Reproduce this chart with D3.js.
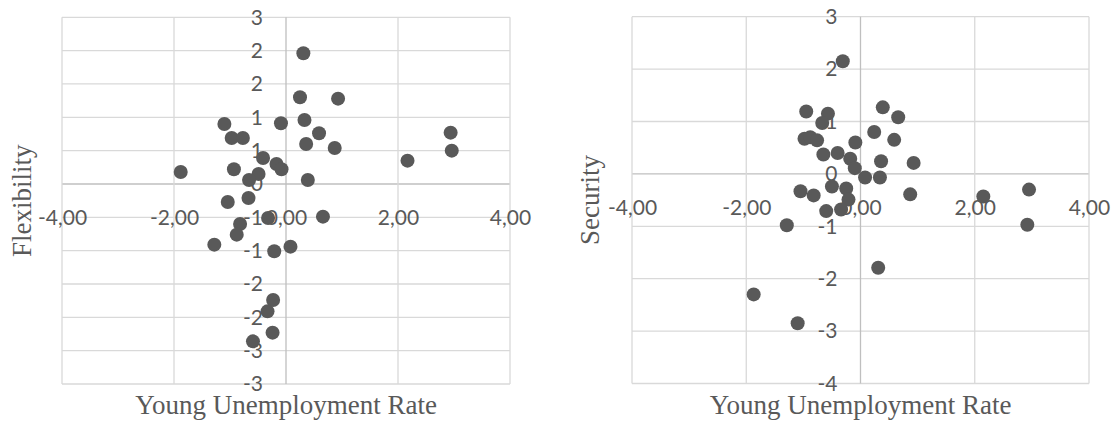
<!DOCTYPE html>
<html>
<head>
    <meta charset="utf-8">
    <script src="https://d3js.org/d3.v7.min.js"></script>
    <style>
        body { margin: 0; background: #fff; }
        .tick text { font-family: Lato, "Open Sans", sans-serif; fill: #595959; }
        .title { font-family: "Liberation Serif", "Times New Roman", serif; fill: #595959; }
    </style>
</head>
<body>
    <script>
        // x tick labels (same for both charts)
        const xTicks = [-4, -2, 0, 2, 4];
        const xTickLabels = ["-4,00", "-2,00", "0,00", "2,00", "4,00"];

        // left chart: y ticks every 0.5, Excel shows them rounded
        const flexTicks = [-3, -2.5, -2, -1.5, -1, -0.5, 0, 0.5, 1, 1.5, 2, 2.5];
        const flexTickLabels = ["-3", "-3", "-2", "-2", "-1", "-1", "0", "1", "1", "2", "2", "3"];

        // right chart: y ticks every 1
        const secTicks = [-4, -3, -2, -1, 0, 1, 2, 3];
        const secTickLabels = ["-4", "-3", "-2", "-1", "0", "1", "2", "3"];

        // Young Unemployment Rate vs Flexibility
        const flexX = [0.31, 0.25, 0.93, 0.33, -0.09, -1.10, 0.59, -0.97, -0.77, 0.36, 0.87, -0.41,
            -0.17, -0.08, -1.88, -0.93, -0.49, -0.66, 0.39, 2.94, 2.96, 2.17, -1.04, -0.67,
            -0.32, 0.66, -0.82, -0.88, -1.28, -0.21, 0.08, -0.23, -0.33, -0.24, -0.59];
        const flexY = [1.96, 1.30, 1.28, 0.96, 0.91, 0.90, 0.76, 0.69, 0.69, 0.60, 0.54, 0.39,
            0.30, 0.22, 0.18, 0.22, 0.15, 0.06, 0.06, 0.77, 0.50, 0.35, -0.27, -0.21,
            -0.51, -0.49, -0.60, -0.76, -0.91, -1.01, -0.94, -1.74, -1.91, -2.23, -2.36];

        // Young Unemployment Rate vs Security
        const secX = [-0.31, -0.95, -0.57, -0.67, 0.39, 0.66, -0.98, -0.88, -0.76, 0.24, 0.59, -0.09,
            -0.65, -0.40, -0.18, -0.10, 0.36, 0.93, 0.08, 0.34, -1.05, -0.82, -0.50, -0.25,
            -0.21, -0.60, -0.34, 0.87, 2.15, 2.95, 2.92, -1.29, 0.31, -1.87, -1.10];
        const secY = [2.15, 1.19, 1.15, 0.97, 1.27, 1.08, 0.67, 0.70, 0.64, 0.80, 0.65, 0.60,
            0.37, 0.40, 0.29, 0.11, 0.24, 0.21, -0.07, -0.07, -0.33, -0.41, -0.24, -0.28,
            -0.49, -0.71, -0.68, -0.39, -0.43, -0.30, -0.97, -0.98, -1.79, -2.30, -2.85];

        const svg = d3.select("body")
            .append("svg")
            .attr("width", 1115)
            .attr("height", 423);

        function drawChart(opt) {
            const xScale = d3.scaleLinear().domain([-4, 4]).range([opt.left, opt.right]);
            const yScale = d3.scaleLinear().domain(d3.extent(opt.yTicks)).range([opt.bottom, opt.top]);
            const g = svg.append("g");

            // gridlines
            g.selectAll(".hgrid")
                .data(opt.yTicks)
                .enter().append("line")
                .attr("x1", opt.left).attr("x2", opt.right)
                .attr("y1", d => yScale(d)).attr("y2", d => yScale(d))
                .attr("stroke", d => d === 0 ? "#bfbfbf" : "#d9d9d9")
                .attr("stroke-width", 1.3);
            g.selectAll(".vgrid")
                .data(xTicks)
                .enter().append("line")
                .attr("y1", opt.top).attr("y2", opt.bottom)
                .attr("x1", d => xScale(d)).attr("x2", d => xScale(d))
                .attr("stroke", d => d === 0 ? "#bfbfbf" : "#d9d9d9")
                .attr("stroke-width", 1.3);

            // x axis labels, under the zero line
            const xAxis = g.append("g")
                .attr("transform", `translate(0,${yScale(0)})`)
                .call(d3.axisBottom(xScale)
                    .tickValues(xTicks)
                    .tickFormat((d, i) => xTickLabels[i])
                    .tickSize(0)
                    .tickPadding(26));
            xAxis.select(".domain").remove();
            xAxis.selectAll("text").attr("font-size", 21);

            // y axis labels, left of the zero line
            const yAxis = g.append("g")
                .attr("transform", `translate(${xScale(0)},0)`)
                .call(d3.axisLeft(yScale)
                    .tickValues(opt.yTicks)
                    .tickFormat((d, i) => opt.yLabels[i])
                    .tickSize(0)
                    .tickPadding(23));
            yAxis.select(".domain").remove();
            yAxis.selectAll("text").attr("font-size", 21);

            // points
            g.selectAll("circle")
                .data(opt.xs)
                .enter().append("circle")
                .attr("cx", d => xScale(d))
                .attr("cy", (d, i) => yScale(opt.ys[i]))
                .attr("r", 7)
                .attr("fill", "#595959");

            // axis titles
            g.append("text")
                .attr("class", "title")
                .attr("x", (opt.left + opt.right) / 2)
                .attr("y", 414)
                .attr("text-anchor", "middle")
                .attr("font-size", 27)
                .text("Young Unemployment Rate");
            g.append("text")
                .attr("class", "title")
                .attr("transform", `translate(${opt.titleX},${(opt.top + opt.bottom) / 2}) rotate(-90)`)
                .attr("text-anchor", "middle")
                .attr("font-size", 27)
                .text(opt.yTitle);
        }

        drawChart({
            left: 62, right: 510, top: 17.3, bottom: 384,
            yTicks: flexTicks, yLabels: flexTickLabels,
            xs: flexX, ys: flexY, yTitle: "Flexibility", titleX: 31
        });
        drawChart({
            left: 632, right: 1089, top: 16.7, bottom: 383.5,
            yTicks: secTicks, yLabels: secTickLabels,
            xs: secX, ys: secY, yTitle: "Security", titleX: 599
        });
    </script>
</body>
</html>
